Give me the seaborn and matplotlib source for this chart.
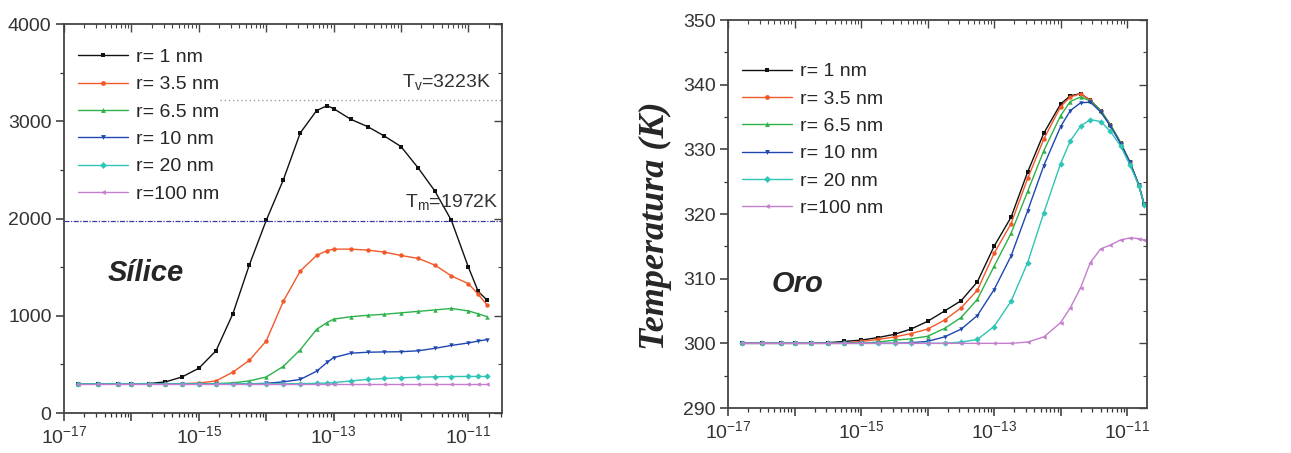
import numpy as np
import pandas as pd
import matplotlib
matplotlib.use("Agg")
import matplotlib.pyplot as plt
import seaborn as sns
from matplotlib.ticker import FixedLocator, FuncFormatter, MultipleLocator, NullFormatter


# ---- data ----
LABELS = ["r= 1 nm", "r= 3.5 nm", "r= 6.5 nm", "r= 10 nm", "r= 20 nm", "r=100 nm"]

# Silice (left panel)
t_si = [1.6e-17, 3.2e-17, 6.3e-17, 1e-16, 1.8e-16, 3.2e-16, 5.6e-16, 1e-15, 1.8e-15,
        3.2e-15, 5.6e-15, 1e-14, 1.8e-14, 3.2e-14, 5.6e-14, 8e-14, 1e-13, 1.8e-13,
        3.2e-13, 5.6e-13, 1e-12, 1.8e-12, 3.2e-12, 5.6e-12, 1e-11, 1.4e-11, 1.9e-11]
si_r1 = [300, 300, 300, 300, 302, 320, 370, 460, 640, 1020, 1520, 1980, 2400, 2880,
         3110, 3160, 3130, 3020, 2945, 2850, 2740, 2520, 2280, 1980, 1500, 1250, 1160]
si_r35 = [300, 300, 300, 300, 300, 300, 302, 308, 330, 420, 540, 740, 1150, 1460,
          1620, 1670, 1685, 1685, 1675, 1655, 1620, 1590, 1520, 1410, 1330, 1220, 1110]
si_r65 = [300, 300, 300, 300, 300, 300, 300, 300, 302, 310, 330, 370, 480, 650,
          860, 930, 965, 990, 1005, 1015, 1030, 1045, 1060, 1075, 1050, 1020, 990]
si_r10 = [300, 300, 300, 300, 300, 300, 300, 300, 300, 300, 300, 305, 320, 345,
          430, 520, 570, 615, 625, 628, 630, 640, 665, 695, 720, 740, 755]
si_r20 = [300, 300, 300, 300, 300, 300, 300, 300, 300, 300, 300, 300, 300, 302,
          305, 308, 312, 330, 345, 355, 362, 368, 372, 375, 376, 376, 376]
si_r100 = [300, 300, 300, 300, 300, 300, 300, 300, 300, 300, 300, 300, 300, 300,
           300, 300, 300, 300, 300, 300, 300, 300, 300, 300, 300, 300, 300]

# Oro (right panel)
t_au = [1.6e-17, 3.2e-17, 6.3e-17, 1e-16, 1.8e-16, 3.2e-16, 5.6e-16, 1e-15, 1.8e-15,
        3.2e-15, 5.6e-15, 1e-14, 1.8e-14, 3.2e-14, 5.6e-14, 1e-13, 1.8e-13, 3.2e-13,
        5.6e-13, 1e-12, 1.4e-12, 2e-12, 2.8e-12, 4e-12, 5.6e-12, 8e-12, 1.1e-11,
        1.5e-11, 1.8e-11]
au_r1 = [300, 300, 300, 300, 300, 300.1, 300.3, 300.5, 300.9, 301.4, 302.2, 303.4,
         305.0, 306.6, 309.5, 315.0, 319.5, 326.5, 332.5, 337.0, 338.3, 338.6, 337.6,
         336.0, 333.8, 331.0, 328.0, 324.5, 321.5]
au_r35 = [300, 300, 300, 300, 300, 300, 300, 300.3, 300.6, 301.0, 301.5, 302.2,
          303.6, 305.5, 308.2, 313.9, 318.5, 325.5, 331.6, 336.6, 338.1, 338.6, 337.6,
          336.0, 333.8, 331.0, 328.0, 324.5, 321.5]
au_r65 = [300, 300, 300, 300, 300, 300, 300, 300, 300.2, 300.5, 300.7, 301.1,
          302.3, 304.0, 306.8, 311.9, 317.0, 323.5, 329.8, 335.2, 337.4, 338.1, 337.5,
          336.0, 333.8, 331.0, 328.0, 324.5, 321.5]
au_r10 = [300, 300, 300, 300, 300, 300, 300, 300, 300, 300, 300.1, 300.3,
          301.0, 302.2, 304.3, 308.3, 313.5, 320.5, 327.5, 333.5, 336.0, 337.2, 337.3,
          335.8, 333.6, 330.9, 328.0, 324.5, 321.5]
au_r20 = [300, 300, 300, 300, 300, 300, 300, 300, 300, 300, 300, 300,
          300, 300.2, 300.6, 302.6, 306.5, 312.5, 320.2, 327.8, 331.3, 333.6, 334.6,
          334.3, 332.8, 330.5, 327.6, 324.4, 321.4]
au_r100 = [300, 300, 300, 300, 300, 300, 300, 300, 300, 300, 300, 300,
           300, 300, 300, 300, 300, 300.2, 301.0, 303.2, 305.5, 308.6, 312.5,
           314.6, 315.2, 316.0, 316.3, 316.2, 316.0]

COLORS = ["#111111", "#f2592a", "#2db24a", "#1f47b0", "#2ec4b6", "#c47fcc"]
MARKERS = ["s", "o", "^", "v", "D", "<"]


def long_frame(t, series):
    parts = []
    for label, vals in zip(LABELS, series):
        parts.append(pd.DataFrame({"t": t, "T": vals, "r": label}))
    return pd.concat(parts, ignore_index=True)


def style_axes(ax, xmax, ylim, ymajor, yminor):
    ax.set_xscale("log")
    ax.set_xlim(1e-17, xmax)
    ax.set_ylim(*ylim)
    decades = [10.0 ** e for e in range(-17, -10)]
    minors = [m * 10.0 ** e for e in range(-17, -10) for m in range(2, 10)]
    fmt = FuncFormatter(lambda v, p: ("$10^{%d}$" % round(np.log10(v)))
                        if round(np.log10(v)) % 2 != 0 else "")
    ax.xaxis.set_major_locator(FixedLocator(decades))
    ax.xaxis.set_minor_locator(FixedLocator(minors))
    ax.xaxis.set_major_formatter(fmt)
    ax.xaxis.set_minor_formatter(NullFormatter())
    ax.yaxis.set_major_locator(MultipleLocator(ymajor))
    ax.yaxis.set_minor_locator(MultipleLocator(yminor))
    ax.tick_params(which="major", direction="out", length=6, width=1.1,
                   labelsize=14, colors="#333333", pad=3)
    ax.tick_params(which="minor", direction="out", length=3, width=0.9, colors="#333333")
    for s in ax.spines.values():
        s.set_visible(True)
        s.set_color("#444444")
        s.set_linewidth(1.3)
    ax.set_xlabel("")
    ax.set_ylabel("")

    top = ax.secondary_xaxis("top")
    top.xaxis.set_major_locator(FixedLocator(decades))
    top.xaxis.set_minor_locator(FixedLocator(minors))
    top.xaxis.set_major_formatter(NullFormatter())
    top.xaxis.set_minor_formatter(NullFormatter())
    top.tick_params(which="major", direction="in", length=6, width=1.0, colors="#444444")
    top.tick_params(which="minor", direction="in", length=3, width=0.8, colors="#444444")
    right = ax.secondary_yaxis("right")
    right.yaxis.set_major_locator(MultipleLocator(ymajor))
    right.yaxis.set_minor_locator(MultipleLocator(yminor))
    right.yaxis.set_major_formatter(NullFormatter())
    right.tick_params(which="major", direction="in", length=6, width=1.0, colors="#444444")
    right.tick_params(which="minor", direction="in", length=3, width=0.8, colors="#444444")
    for sec in (top, right):
        for s in sec.spines.values():
            s.set_visible(False)


def draw_panel(ax, df):
    sns.lineplot(data=df, x="t", y="T", hue="r", style="r", hue_order=LABELS,
                 style_order=LABELS, palette=dict(zip(LABELS, COLORS)),
                 markers=dict(zip(LABELS, MARKERS)), dashes=False, estimator=None,
                 linewidth=1.0, markersize=3.2, markeredgewidth=0, ax=ax, legend=False)
    handles = [plt.Line2D([], [], color=c, marker=m, markersize=3.5, markeredgewidth=0,
                          linewidth=1.0) for c, m in zip(COLORS, MARKERS)]
    return handles


def main():
    sns.set_theme(style="ticks")
    plt.rcParams["font.family"] = ["Liberation Sans", "DejaVu Sans"]
    plt.rcParams["mathtext.default"] = "regular"

    fig = plt.figure(figsize=(12.91, 4.53), dpi=100)
    ax1 = fig.add_axes([0.0496, 0.0883, 0.3393, 0.8587])
    ax2 = fig.add_axes([0.5639, 0.0993, 0.3246, 0.8565])

    # Silice
    df_si = long_frame(t_si, [si_r1, si_r35, si_r65, si_r10, si_r20, si_r100])
    handles = draw_panel(ax1, df_si)
    style_axes(ax1, 10 ** -10.5, (0, 4000), 1000, 500)
    ax1.axhline(3223, xmin=0.357, xmax=1, color="#9a9aa8", lw=1.0, ls=(0, (1, 2)))
    ax1.axhline(1972, color="#3a3aa0", lw=0.9, ls=(0, (4, 1.2, 1, 1.2)))
    ax1.text(0.975, 3400, "T$_v$=3223K", transform=ax1.get_yaxis_transform(),
             ha="right", va="center", fontsize=14, color="#333333")
    ax1.text(0.99, 2170, "T$_m$=1972K", transform=ax1.get_yaxis_transform(),
             ha="right", va="center", fontsize=14, color="#333333")
    ax1.text(0.10, 0.36, "Sílice", transform=ax1.transAxes, fontsize=21,
             fontweight="bold", fontstyle="italic", ha="left", va="center")
    ax1.legend(handles, LABELS, loc="upper left", bbox_to_anchor=(0.0, 0.972),
               frameon=False, fontsize=14, handlelength=2.6, handletextpad=0.4,
               labelspacing=0.5, borderaxespad=0.3)

    # Oro
    df_au = long_frame(t_au, [au_r1, au_r35, au_r65, au_r10, au_r20, au_r100])
    handles = draw_panel(ax2, df_au)
    style_axes(ax2, 10 ** -10.7, (290, 350), 10, 5)
    ax2.text(0.105, 0.32, "Oro", transform=ax2.transAxes, fontsize=21,
             fontweight="bold", fontstyle="italic", ha="left", va="center")
    ax2.legend(handles, LABELS, loc="upper left", bbox_to_anchor=(0.0, 0.925),
               frameon=False, fontsize=14, handlelength=2.6, handletextpad=0.4,
               labelspacing=0.5, borderaxespad=0.3)
    ax2.set_ylabel("Temperatura (K)", family=["Liberation Serif", "DejaVu Serif"],
                   fontsize=26, fontweight="bold", fontstyle="italic")
    ax2.yaxis.set_label_coords(-0.134, 0.47)

    fig.savefig("out.png", dpi=100, facecolor="white")
    plt.close(fig)


if __name__ == "__main__":
    main()
